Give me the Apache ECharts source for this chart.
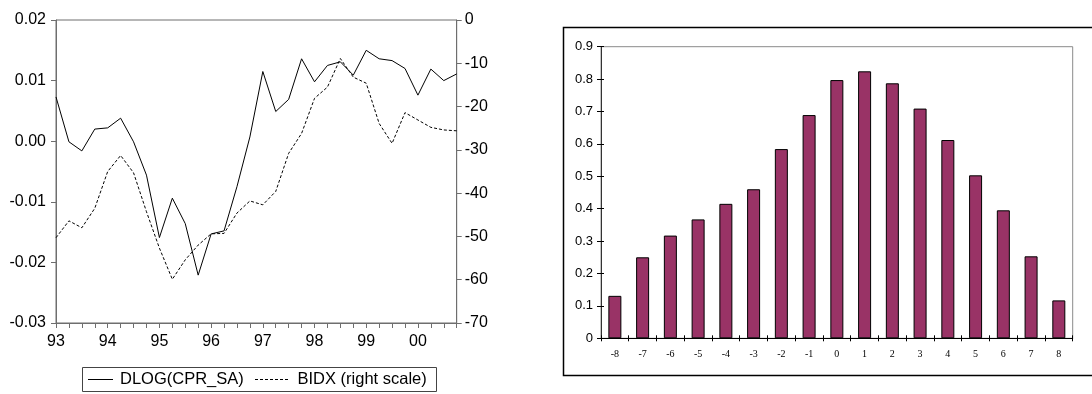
<!DOCTYPE html>
<html><head><meta charset="utf-8">
<script src="https://cdn.jsdelivr.net/npm/echarts@6/dist/echarts.min.js"></script>
<style>html,body{margin:0;padding:0;background:#fff}#c{width:1092px;height:394px}</style>
</head><body><div id="c"></div>
<script>
// Quarterly data 1993Q1 .. 2000Q4
const quarters = Array.from({length: 32}, (_, i) => i);
const yearLabels = ['93','94','95','96','97','98','99','00'];
const dlogCpr = [0.0073,-0.0001,-0.0016,0.0020,0.0022,0.0038,-0.0001,-0.0056,
  -0.0159,-0.0094,-0.0136,-0.0221,-0.0153,-0.0148,-0.0075,0.0007,
  0.0115,0.0049,0.0069,0.0136,0.0098,0.0125,0.0131,0.0109,
  0.0150,0.0136,0.0133,0.0120,0.0076,0.0119,0.0100,0.0111];
const bidx = [-50.3,-46.4,-48.0,-43.5,-35.0,-31.3,-35.3,-44.3,
  -52.7,-59.9,-55.4,-52.0,-49.4,-49.3,-44.6,-41.8,
  -42.7,-39.6,-30.8,-26.2,-18.1,-15.5,-8.9,-13.2,
  -14.6,-23.9,-28.5,-21.4,-23.1,-24.8,-25.4,-25.6];
// Cross-correlation bars
const lags = ['-8','-7','-6','-5','-4','-3','-2','-1','0','1','2','3','4','5','6','7','8'];
const corr = [0.131,0.250,0.317,0.367,0.415,0.460,0.584,0.689,0.797,0.824,0.787,0.709,0.612,0.503,0.395,0.253,0.117];
const legendNames = ['DLOG(CPR_SA)', 'BIDX (right scale)'];

const sans = '"Liberation Sans", Arial, sans-serif';
const serif = '"Liberation Serif", "Times New Roman", serif';
const chart = echarts.init(document.getElementById('c'));
chart.setOption({
  animation: false,
  backgroundColor: '#fff',
  grid: [
    {left: 56, top: 20, right: 635.3, bottom: 71, show: true, borderColor: '#6e6e6e', borderWidth: 1},
    {left: 601, top: 46.7, right: 19.3, bottom: 55.7, show: true, borderColor: '#8a8a8a', borderWidth: 1}
  ],
  xAxis: [
    {type: 'value', gridIndex: 0, min: 0, max: 31, interval: 4,
     axisLine: {onZero: false, lineStyle: {color: '#6e6e6e', width: 1}},
     axisTick: {show: true, length: 5, lineStyle: {color: '#6e6e6e'}},
     minorTick: {show: true, splitNumber: 4, length: 5, lineStyle: {color: '#6e6e6e'}},
     splitLine: {show: false},
     axisLabel: {color: '#000', fontFamily: sans, fontSize: 16, margin: 11,
       formatter: v => yearLabels[Math.round(v / 4)] || ''}},
    {type: 'category', gridIndex: 1, data: lags,
     axisLine: {onZero: false, lineStyle: {color: '#000', width: 1}},
     axisTick: {show: true, length: 3, lineStyle: {color: '#000'}},
     axisLabel: {color: '#000', fontFamily: serif, fontSize: 10, margin: 11}},
    {type: 'category', gridIndex: 1, data: lags, position: 'bottom',
     axisLine: {show: false, onZero: false}, axisTick: {show: true, inside: true, length: 3, lineStyle: {color: '#000'}},
     axisLabel: {show: false}}
  ],
  yAxis: [
    {type: 'value', gridIndex: 0, min: -0.03, max: 0.02, interval: 0.01,
     axisLine: {show: true, onZero: false, lineStyle: {color: '#6e6e6e'}},
     axisTick: {show: true, length: 5, lineStyle: {color: '#6e6e6e'}},
     splitLine: {show: false},
     axisLabel: {color: '#000', fontFamily: sans, fontSize: 16, margin: 10,
       formatter: v => v.toFixed(2)}},
    {type: 'value', gridIndex: 0, min: -70, max: 0, interval: 10, position: 'right',
     axisLine: {show: true, onZero: false, lineStyle: {color: '#6e6e6e'}},
     axisTick: {show: true, length: 5, lineStyle: {color: '#6e6e6e'}},
     splitLine: {show: false},
     axisLabel: {color: '#000', fontFamily: sans, fontSize: 16, margin: 8}},
    {type: 'value', gridIndex: 1, min: 0, max: 0.9, interval: 0.1,
     axisLine: {show: true, onZero: false, lineStyle: {color: '#333'}},
     axisTick: {show: true, length: 4, lineStyle: {color: '#000'}},
     splitLine: {show: false},
     axisLabel: {color: '#000', fontFamily: sans, fontSize: 13, margin: 8,
       formatter: v => v === 0 ? '0' : v.toFixed(1)}},
    {type: 'value', gridIndex: 1, min: 0, max: 0.9, interval: 0.1, position: 'left',
     axisLine: {show: false, onZero: false}, axisTick: {show: true, inside: true, length: 3, lineStyle: {color: '#000'}},
     splitLine: {show: false}, axisLabel: {show: false}}
  ],
  series: [
    {name: legendNames[0], type: 'line', xAxisIndex: 0, yAxisIndex: 0, symbol: 'none',
     data: quarters.map((q, i) => [q, dlogCpr[i]]), lineStyle: {color: '#000', width: 1}},
    {name: legendNames[1], type: 'line', xAxisIndex: 0, yAxisIndex: 1, symbol: 'none',
     data: quarters.map((q, i) => [q, bidx[i]]), lineStyle: {color: '#000', width: 1, type: [3, 2]}},
    {type: 'bar', xAxisIndex: 1, yAxisIndex: 2, data: corr, barWidth: 13,
     itemStyle: {color: '#993366', borderColor: '#000', borderWidth: 1}}
  ],
  graphic: [
    {type: 'rect', shape: {x: 563.5, y: 27.5, width: 540, height: 348}, style: {fill: 'none', stroke: '#000', lineWidth: 1.5}, z: 100},
    {type: 'rect', shape: {x: 82.5, y: 367.5, width: 354, height: 24}, style: {fill: '#fff', stroke: '#444', lineWidth: 1}, z: 100},
    {type: 'line', shape: {x1: 88, y1: 379.5, x2: 113, y2: 379.5}, style: {stroke: '#000', lineWidth: 1}, z: 101},
    {type: 'text', x: 120, y: 379.5, style: {text: legendNames[0], fontFamily: sans, fontSize: 16.5, fill: '#000', verticalAlign: 'middle'}, z: 101},
    {type: 'line', shape: {x1: 255, y1: 379.5, x2: 288, y2: 379.5}, style: {stroke: '#000', lineWidth: 1, lineDash: [3, 2]}, z: 101},
    {type: 'text', x: 297.5, y: 379.5, style: {text: legendNames[1], fontFamily: sans, fontSize: 16.5, fill: '#000', verticalAlign: 'middle'}, z: 101}
  ]
});
</script></body></html>
